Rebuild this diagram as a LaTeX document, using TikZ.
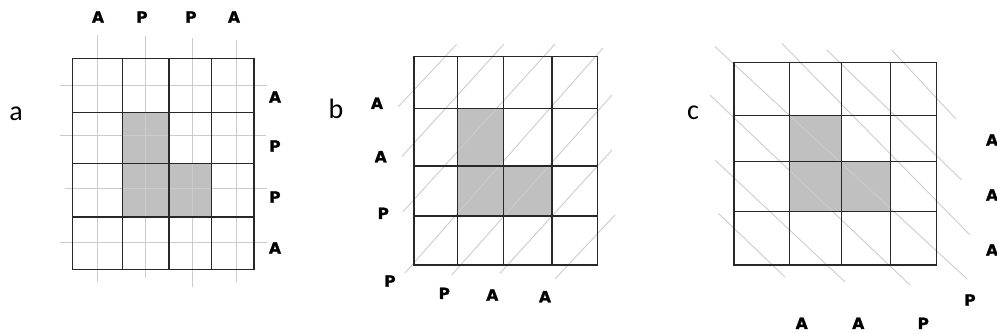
\documentclass[tikz,border=0pt]{standalone}
\usepackage{fontspec}
\setmainfont{Carlito}
\newfontfamily\rotulofonte[BoldFeatures={FakeBold=1.6}]{DejaVu Sans}
\usetikzlibrary{positioning}
\definecolor{sombreado}{RGB}{192,192,192}
\definecolor{traco}{RGB}{204,204,204}
\definecolor{preto}{RGB}{40,40,40}

\begin{document}
\begin{tikzpicture}[x=1pt,y=-1pt,
    grade/.style={draw=preto,line width=1.3pt,line cap=rect},
    linha/.style={draw=traco,line width=0.9pt},
    celula/.style={fill=sombreado},
    rotulo/.style={font=\rotulofonte\bfseries\fontsize{15.5}{15.5}\selectfont,inner sep=0pt},
    letra/.style={font=\fontsize{28}{28}\selectfont,inner sep=0pt,anchor=base}]
  \useasboundingbox (0,0) rectangle (997,334);
  % painel a
  \fill[celula] (122.7,112.7) rectangle (169,217);
  \fill[celula] (169,163.3) rectangle (211.3,217);
  \foreach \x/\ya/\yb in {97.7/35/282,145.3/36/278,192.3/38/287,236/40/282}
    \draw[linha] (\x,\ya) -- (\x,\yb);
  \foreach \y/\xa/\xb in {85.7/60/267,135.7/60/266,188.3/65/267,242.3/60/267}
    \draw[linha] (\xa,\y) -- (\xb,\y);
  \foreach \x in {72.7,122.7,169,211.3,254} \draw[grade] (\x,58.3) -- (\x,269.3);
  \foreach \y in {58.3,112.7,163.3,217,269.3} \draw[grade] (72.7,\y) -- (254,\y);
  \node[letra] (la) at (16,120.5) {a};
  \foreach \x/\t [count=\i] in {98/A,142/P,191/P,234/A}
    \node[rotulo] (aT\i) at (\x,17) {\t};
  \foreach \y/\t [count=\i] in {97/A,146/P,197/P,248/A}
    \node[rotulo] (aD\i) at (275,\y) {\t};
  % painel b
  \fill[celula] (457.3,108.3) rectangle (503.7,216);
  \fill[celula] (503.7,166) rectangle (552,216);
  \foreach \xa/\ya/\xb/\yb in {398.3/106.7/456.7/44.3,401.7/156.7/504/44,403/211.7/555/44,
      405/273/603/48,451.7/275/612/95,500/273.3/612/150,555/279/615/215}
    \draw[linha] (\xa,\ya) -- (\xb,\yb);
  \foreach \x in {414,457.3,503.7,552,597.3} \draw[grade] (\x,56.7) -- (\x,265);
  \foreach \y in {56.7,108.3,166,216,265} \draw[grade] (414,\y) -- (597.3,\y);
  \node[letra] (lb) at (336,118.5) {b};
  \foreach \x/\y/\t [count=\i] in {377/103.3/A,380.7/156.7/A,383.3/213.3/P,390/281/P,
      444.3/293.3/P,492.3/295/A,545/296.7/A}
    \node[rotulo] (bL\i) at (\x,\y) {\t};
  % painel c
  \fill[celula] (789.3,115.7) rectangle (841.3,211.7);
  \fill[celula] (841.3,161.3) rectangle (890.7,211.7);
  \foreach \xa/\ya/\xb/\yb in {891.7/50/956/119,826.7/50/961.7/180,781.7/43.3/970/235,
      715/46.7/967/279,710/95/910/285,715/160/845/282,718.3/213.3/785/277}
    \draw[linha] (\xa,\ya) -- (\xb,\yb);
  \foreach \x in {734,789.3,841.3,890.7,936.7} \draw[grade] (\x,62.3) -- (\x,265);
  \foreach \y in {62.3,115.7,161.3,211.7,265} \draw[grade] (734,\y) -- (936.7,\y);
  \node[letra] (lc) at (693,120) {c};
  \foreach \x/\y/\t [count=\i] in {992/140/A,992/195/A,992/250/A,970/300/P,
      923.3/323.3/P,858.3/323.3/A,801.7/323.3/A}
    \node[rotulo] (cL\i) at (\x,\y) {\t};
\end{tikzpicture}
\end{document}
